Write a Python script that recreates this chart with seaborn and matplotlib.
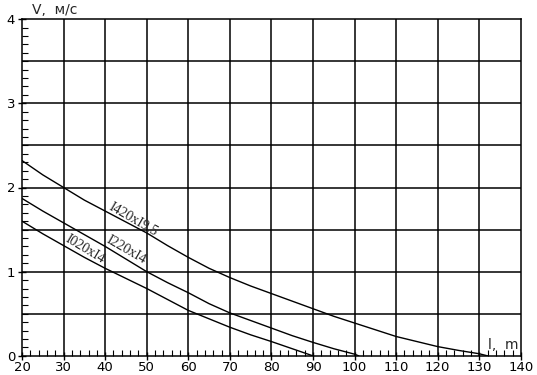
import pandas as pd
import numpy as np
import matplotlib.pyplot as plt
import seaborn as sns
from matplotlib.ticker import MultipleLocator

sns.set_theme(style="white")
plt.rcParams['font.family'] = ['DejaVu Sans']

# Curve values (l, m -> V, m/s)
l_1420 = [20, 25, 30, 35, 40, 45, 50, 55, 60, 65, 70, 75, 80, 85, 90, 95, 100,
          105, 110, 115, 120, 125, 130, 132]
v_1420 = [2.32, 2.15, 2.0, 1.85, 1.72, 1.59, 1.46, 1.31, 1.17, 1.04, 0.93, 0.83,
          0.74, 0.65, 0.56, 0.47, 0.39, 0.31, 0.23, 0.17, 0.11, 0.065, 0.025, 0.0]

l_1220 = [20, 25, 30, 35, 40, 45, 50, 55, 60, 65, 70, 75, 80, 85, 90, 95, 100, 101]
v_1220 = [1.87, 1.72, 1.58, 1.44, 1.30, 1.15, 1.0, 0.87, 0.75, 0.62, 0.51, 0.42,
          0.33, 0.24, 0.16, 0.085, 0.02, 0.0]

l_1020 = [20, 25, 30, 35, 40, 45, 50, 55, 60, 65, 70, 75, 80, 85, 90]
v_1020 = [1.60, 1.45, 1.31, 1.17, 1.04, 0.92, 0.80, 0.67, 0.54, 0.44, 0.34, 0.25,
          0.17, 0.085, 0.0]

names = ['I420xI9,5', 'I220xI4', 'I020xI4']

df = pd.concat([
    pd.DataFrame({'l': l_1420, 'v': v_1420, 'pipe': names[0]}),
    pd.DataFrame({'l': l_1220, 'v': v_1220, 'pipe': names[1]}),
    pd.DataFrame({'l': l_1020, 'v': v_1020, 'pipe': names[2]}),
])

fig = plt.figure(figsize=(5.37, 3.75), dpi=100)
ax = fig.add_axes([0.041, 0.051, 0.929, 0.898])

sns.lineplot(data=df, x='l', y='v', hue='pipe', palette=['black'] * 3,
             legend=False, linewidth=1.0, ax=ax)

ax.set_xlim(20, 140)
ax.set_ylim(0, 4)
ax.xaxis.set_major_locator(MultipleLocator(10))
ax.xaxis.set_minor_locator(MultipleLocator(2))
ax.yaxis.set_major_locator(MultipleLocator(1))
ax.yaxis.set_minor_locator(MultipleLocator(0.1))

# grid every 10 m and every 0.5 m/s
for xv in range(30, 140, 10):
    ax.axvline(xv, color='black', lw=1.1, zorder=0)
for yv in np.arange(0.5, 4, 0.5):
    ax.axhline(yv, color='black', lw=1.1, zorder=0)

for s in ax.spines.values():
    s.set_color('black')
    s.set_linewidth(1.1)

ax.tick_params(which='major', direction='inout', length=6, width=1, colors='black',
               labelsize=9.5)
ax.tick_params(axis='x', which='major', pad=1)
ax.tick_params(axis='y', which='major', pad=2)
ax.tick_params(which='minor', direction='in', length=4, width=0.8, colors='black')
ax.tick_params(axis='x', which='both', bottom=True)
ax.tick_params(axis='y', which='both', left=True)
ax.set_xlabel('')
ax.set_ylabel('')

ax.text(22.5, 4.02, 'V,  м/с', fontsize=10, ha='left', va='bottom')
ax.text(139.5, 0.05, 'l,  m', fontsize=10, ha='right', va='bottom')

lab = dict(family='Liberation Serif', fontsize=10, ha='center', va='center')
ax.text(46.8, 1.63, names[0], rotation=-30, **lab)
ax.text(45.0, 1.26, names[1], rotation=-30, **lab)
ax.text(35.1, 1.27, names[2], rotation=-31, **lab)

plt.savefig('out.png', dpi=100)
